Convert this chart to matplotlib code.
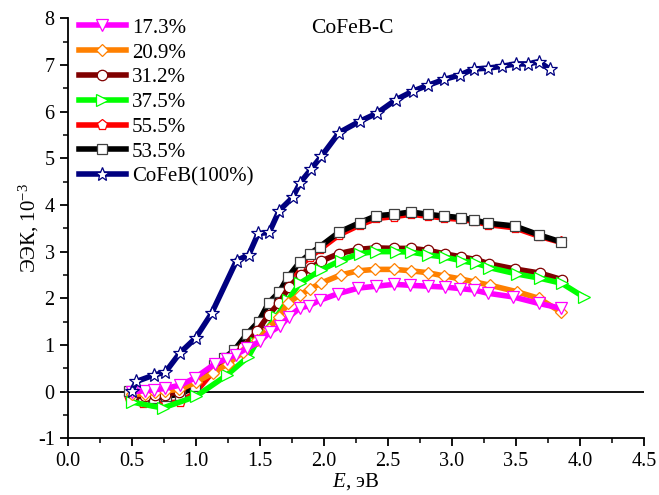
import matplotlib
matplotlib.use("Agg")
import matplotlib.pyplot as plt
from matplotlib.ticker import MultipleLocator

plt.rcParams['font.family'] = ['Liberation Serif', 'DejaVu Serif']
plt.rcParams['mathtext.fontset'] = 'custom'
plt.rcParams['mathtext.rm'] = 'Liberation Serif'
plt.rcParams['mathtext.it'] = 'Liberation Serif:italic'

# ---- data ----
labels = ["17.3%", "20.9%", "31.2%", "37.5%", "55.5%", "53.5%", "CoFeB(100%)"]

x_173 = [0.50, 0.60, 0.67, 0.76, 0.875, 0.99, 1.15, 1.24, 1.31, 1.40, 1.50, 1.58, 1.66, 1.73, 1.81, 1.88, 1.97,
         2.11, 2.27, 2.41, 2.55, 2.67, 2.81, 2.95, 3.06, 3.17, 3.28, 3.48, 3.68, 3.85]
y_173 = [0.00, 0.02, 0.04, 0.07, 0.14, 0.29, 0.60, 0.71, 0.79, 0.93, 1.08, 1.28, 1.41, 1.61, 1.79, 1.84, 1.96,
         2.10, 2.22, 2.26, 2.30, 2.28, 2.26, 2.24, 2.21, 2.18, 2.11, 2.03, 1.89, 1.79]

x_209 = [0.50, 0.60, 0.68, 0.76, 0.87, 1.00, 1.13, 1.25, 1.37, 1.48, 1.57, 1.65, 1.72, 1.81, 1.89, 1.98,
         2.13, 2.27, 2.40, 2.55, 2.68, 2.81, 2.94, 3.06, 3.18, 3.30, 3.51, 3.68, 3.85]
y_209 = [-0.05, -0.05, 0.00, 0.02, 0.05, 0.20, 0.40, 0.60, 0.85, 1.10, 1.35, 1.60, 1.90, 2.07, 2.20, 2.33,
         2.50, 2.59, 2.62, 2.62, 2.59, 2.55, 2.48, 2.42, 2.35, 2.28, 2.14, 2.00, 1.71]

x_312 = [0.50, 0.60, 0.68, 0.76, 0.87, 1.00, 1.13, 1.25, 1.37, 1.48, 1.57, 1.65, 1.73, 1.82, 1.90, 1.98,
         2.12, 2.27, 2.41, 2.55, 2.68, 2.81, 2.95, 3.07, 3.19, 3.29, 3.49, 3.69, 3.86]
y_312 = [-0.10, -0.10, -0.08, -0.06, 0.00, 0.25, 0.45, 0.70, 0.95, 1.30, 1.65, 1.90, 2.25, 2.50, 2.65, 2.80,
         2.96, 3.05, 3.08, 3.07, 3.07, 3.03, 2.95, 2.89, 2.83, 2.74, 2.63, 2.54, 2.40]

x_375 = [0.50, 0.74, 1.00, 1.24, 1.41, 1.47, 1.63, 1.72, 1.81, 1.98, 2.13, 2.28, 2.41, 2.56, 2.68, 2.81,
         2.95, 3.08, 3.19, 3.29, 3.51, 3.69, 3.86, 4.03]
y_375 = [-0.22, -0.35, -0.10, 0.35, 0.75, 1.04, 1.61, 1.96, 2.32, 2.61, 2.81, 2.96, 3.00, 3.00, 2.99, 2.93,
         2.88, 2.80, 2.75, 2.66, 2.52, 2.43, 2.32, 2.03]

x_555 = [0.48, 0.59, 0.67, 0.77, 0.875, 0.996, 1.14, 1.22, 1.30, 1.40, 1.49, 1.57, 1.65, 1.72, 1.81, 1.89, 1.97,
         2.12, 2.28, 2.41, 2.55, 2.68, 2.81, 2.94, 3.07, 3.17, 3.28, 3.49, 3.68, 3.85]
y_555 = [-0.12, -0.25, -0.25, -0.24, -0.22, -0.02, 0.45, 0.62, 0.82, 1.13, 1.42, 1.80, 2.03, 2.38, 2.68, 2.88, 3.05,
         3.36, 3.57, 3.71, 3.75, 3.80, 3.76, 3.72, 3.69, 3.65, 3.58, 3.51, 3.33, 3.20]

x_535 = [0.48, 0.59, 0.67, 0.77, 0.875, 0.996, 1.14, 1.22, 1.30, 1.40, 1.49, 1.57, 1.65, 1.72, 1.81, 1.89, 1.97,
         2.12, 2.28, 2.41, 2.55, 2.68, 2.81, 2.94, 3.07, 3.17, 3.28, 3.49, 3.68, 3.85]
y_535 = [0.015, -0.17, -0.14, -0.09, -0.06, 0.12, 0.57, 0.72, 0.89, 1.24, 1.50, 1.91, 2.13, 2.46, 2.77, 2.95, 3.11,
         3.42, 3.62, 3.77, 3.80, 3.85, 3.80, 3.76, 3.73, 3.68, 3.61, 3.55, 3.36, 3.21]

x_100 = [0.50, 0.535, 0.676, 0.762, 0.875, 0.998, 1.123, 1.318, 1.413, 1.487, 1.573, 1.651, 1.756, 1.816, 1.898,
         1.980, 2.119, 2.279, 2.412, 2.561, 2.697, 2.811, 2.941, 3.060, 3.170, 3.283, 3.392, 3.498, 3.596, 3.681, 3.763]
y_100 = [0.015, 0.22, 0.36, 0.42, 0.83, 1.15, 1.68, 2.81, 2.93, 3.39, 3.41, 3.88, 4.16, 4.48, 4.76,
         5.04, 5.55, 5.79, 5.96, 6.25, 6.44, 6.56, 6.69, 6.78, 6.91, 6.93, 6.97, 7.02, 7.02, 7.07, 6.91]

series = [
    (x_173, y_173, '#FF00FF', 'v', 9, 7),
    (x_209, y_209, '#FF8000', 'D', 6.5, 6),
    (x_312, y_312, '#800000', 'o', 7.5, 4),
    (x_375, y_375, '#00FF00', '>', 9, 5),
    (x_555, y_555, '#FF0000', 'p', 8, 2),
    (x_535, y_535, '#000000', 's', 6.5, 3),
    (x_100, y_100, '#000080', '*', 10.5, 8),
]

fig = plt.figure(figsize=(6.59, 4.95), dpi=100)
ax = fig.add_axes([0.103, 0.1143, 0.874, 0.849])

for (xs, ys, c, m, ms, z), lab in zip(series, labels):
    ec = '#404040' if c == '#000000' else c
    ax.plot(xs, ys, color=c, lw=4.0, marker=m, markersize=ms,
            markerfacecolor='white', markeredgecolor=ec, markeredgewidth=0.9,
            label=lab, zorder=z)

ax.axhline(0, color='black', lw=1.3, zorder=1)

ax.set_xlim(0, 4.5)
ax.set_ylim(-1, 8)
ax.xaxis.set_major_locator(MultipleLocator(0.5))
ax.xaxis.set_minor_locator(MultipleLocator(0.25))
ax.yaxis.set_major_locator(MultipleLocator(1))
ax.yaxis.set_minor_locator(MultipleLocator(0.5))
ax.xaxis.set_major_formatter(matplotlib.ticker.FormatStrFormatter('%.1f'))
ax.yaxis.set_major_formatter(matplotlib.ticker.FuncFormatter(lambda v, p: '%d' % v))

for s in ['top', 'right']:
    ax.spines[s].set_visible(False)
for s in ['left', 'bottom']:
    ax.spines[s].set_linewidth(1.3)

ax.tick_params(which='major', direction='out', length=6, width=1.3, labelsize=14.5)
ax.tick_params(which='minor', direction='out', length=3.5, width=1.1)

ax.set_xlabel(r'$E$, эВ', fontsize=15, labelpad=0)
ax.set_ylabel(r'ЭЭК, 10$^{-3}$', fontsize=15, labelpad=-2)

ax.text(2.22, 7.78, 'CoFeB-C', fontsize=15.5, ha='center', va='center')

leg = ax.legend(loc='upper left', frameon=False, fontsize=15, handlelength=2.25,
                borderaxespad=0.0, labelspacing=0.25, handletextpad=0.3,
                borderpad=0.0, bbox_to_anchor=(0.019, 1.0))

fig.savefig('out.png', dpi=100)
